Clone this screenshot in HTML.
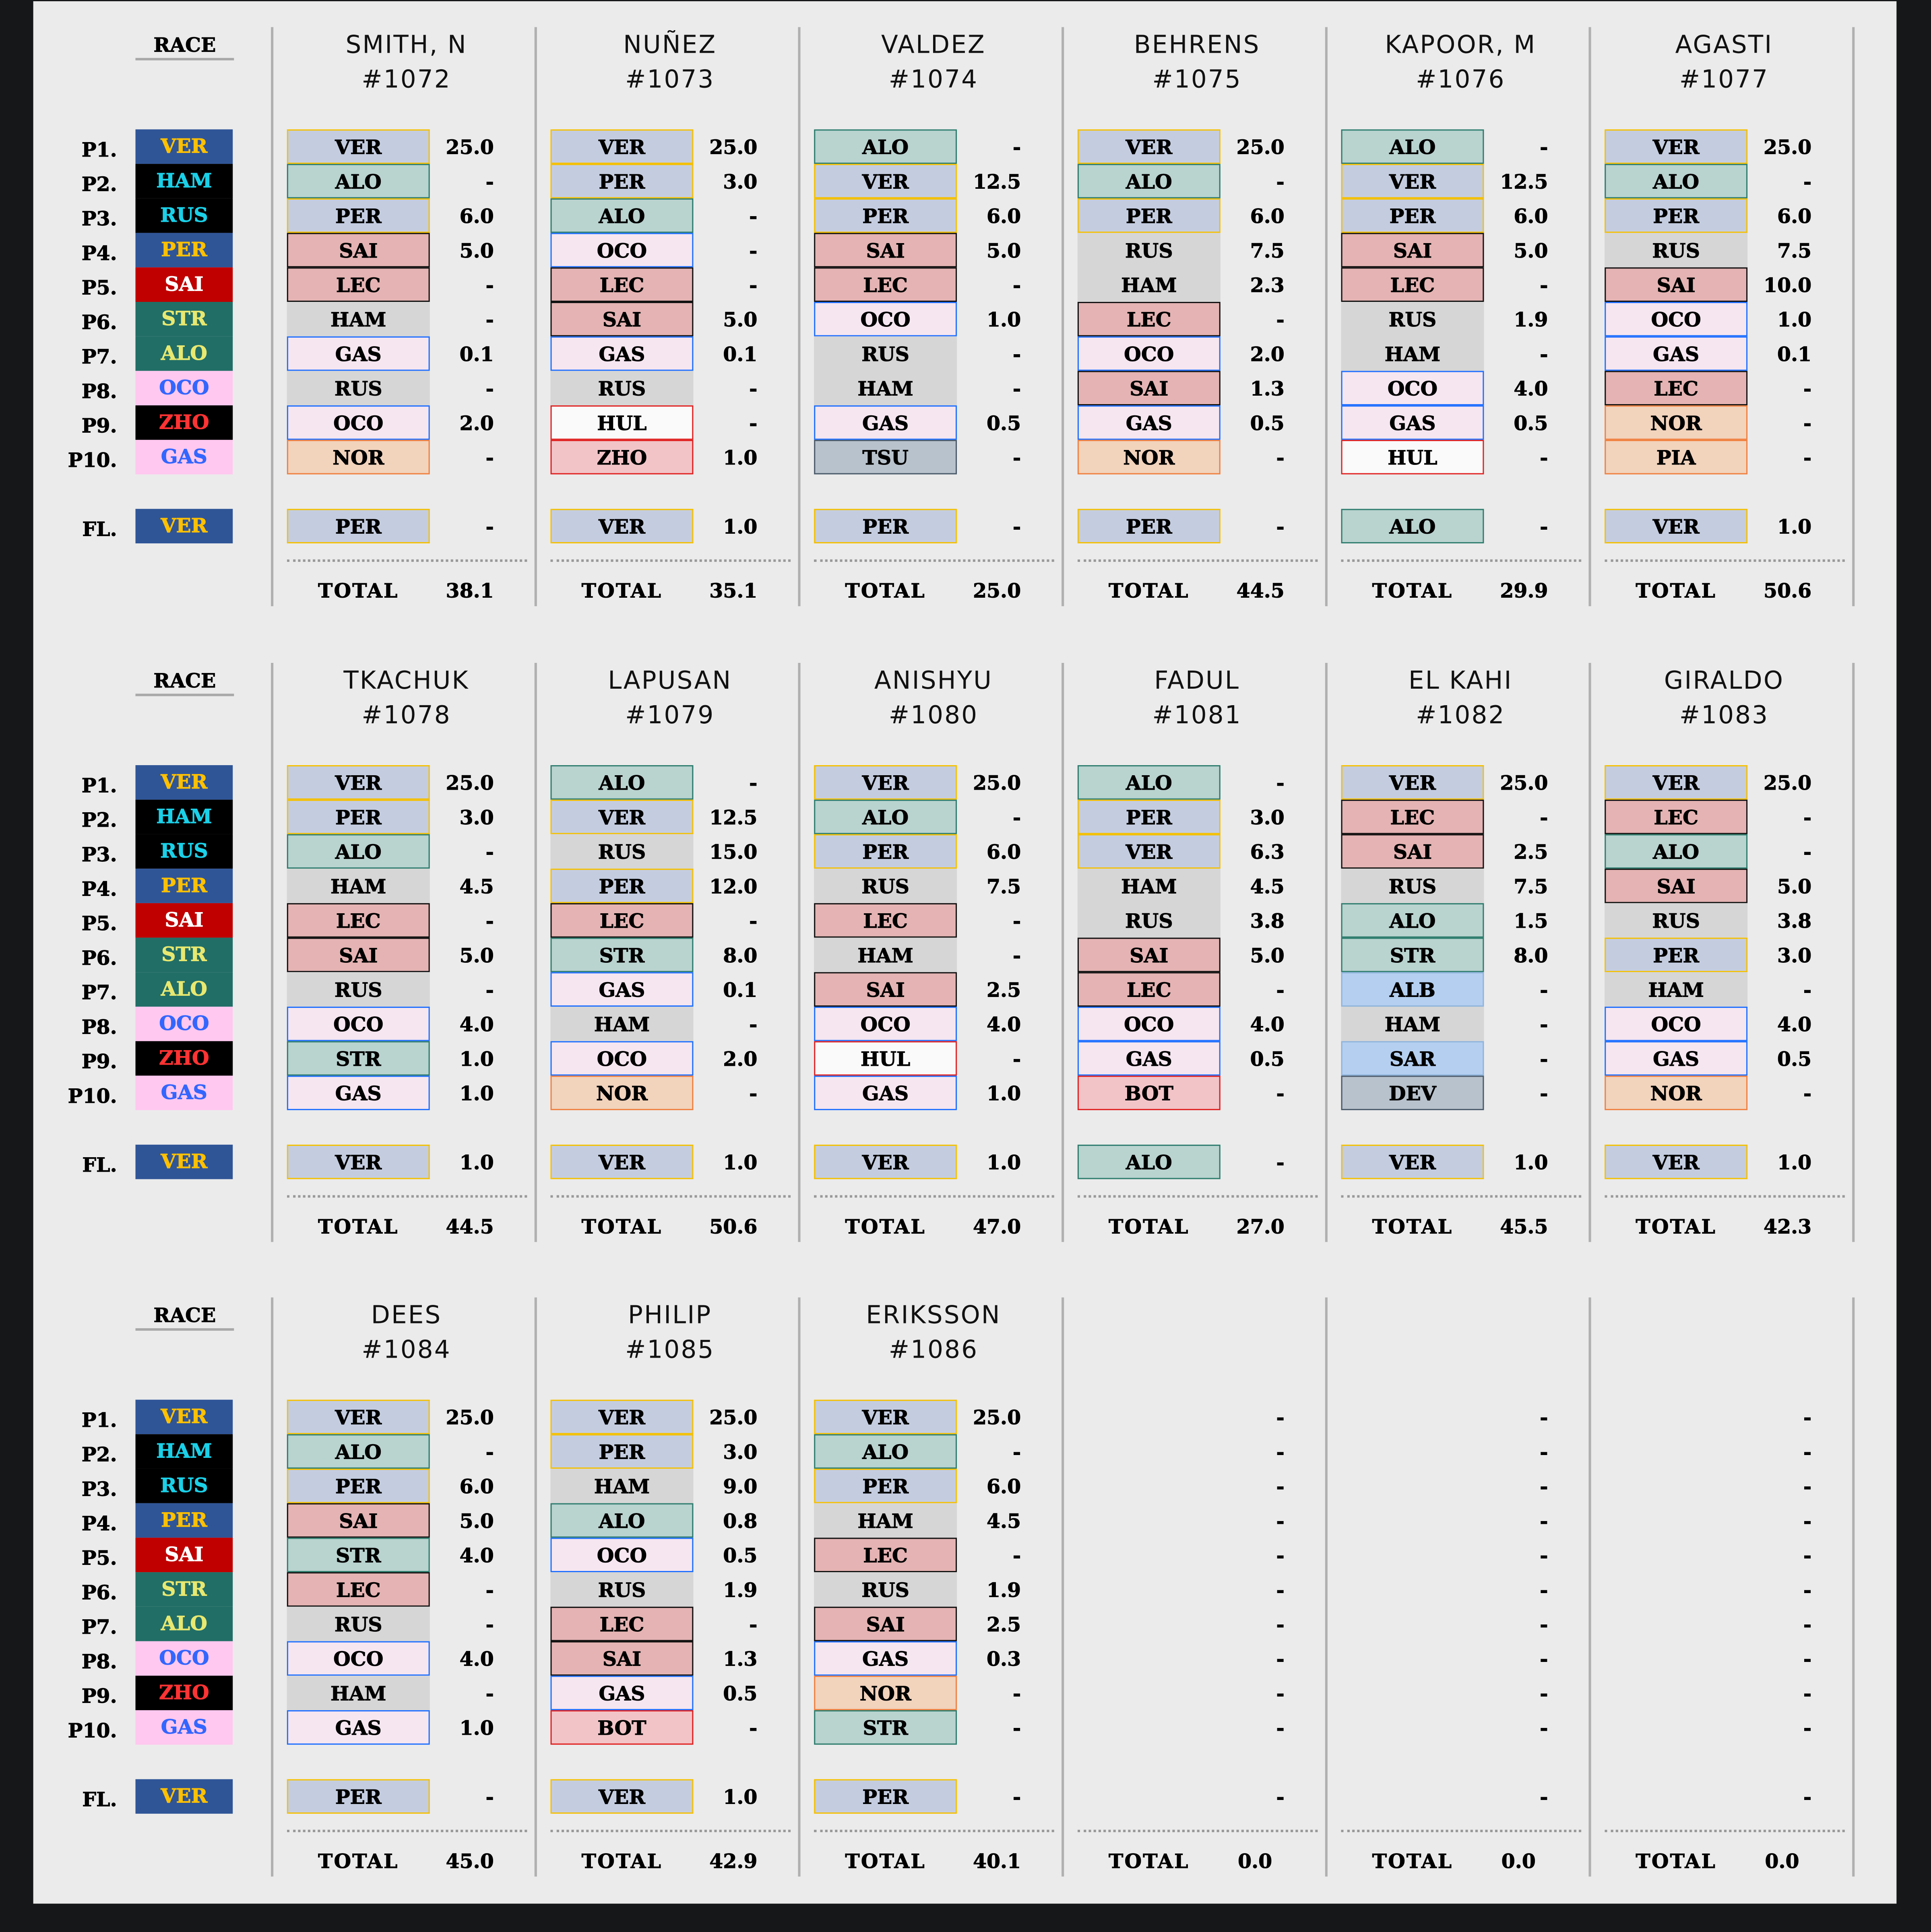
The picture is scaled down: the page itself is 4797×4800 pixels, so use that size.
<!DOCTYPE html>
<html><head><meta charset="utf-8">
<style>
html,body{margin:0;padding:0;background:#161719;}
body{width:4797px;height:4800px;overflow:hidden;position:relative;}
#s{position:absolute;left:0;top:0;width:1568px;height:1568px;transform-origin:0 0;transform:scale(3.0593,3.0612);background:#161719;}
#bg{position:absolute;left:27px;top:1px;width:1513px;height:1544px;background:#ebebeb;}
.a{position:absolute;}
.sf{-webkit-text-stroke:0.35px currentColor;}
.box{position:absolute;box-sizing:border-box;height:28px;font:bold 16px "DejaVu Serif","Liberation Serif",serif;text-align:center;line-height:27px;color:#000;-webkit-text-stroke:0.35px #000;}
.rb{position:absolute;width:79px;height:28px;font:bold 16px "DejaVu Serif","Liberation Serif",serif;text-align:center;line-height:28px;-webkit-text-stroke:0.35px currentColor;}
.pl{position:absolute;width:60px;left:35px;text-align:right;font:bold 16px "DejaVu Serif","Liberation Serif",serif;color:#000;-webkit-text-stroke:0.35px #000;}
.val{position:absolute;width:80px;text-align:right;font:bold 16px "DejaVu Serif","Liberation Serif",serif;color:#000;-webkit-text-stroke:0.35px #000;}
.hd{position:absolute;width:214px;text-align:center;font:20px "DejaVu Sans","Liberation Sans",sans-serif;letter-spacing:1px;color:#111;line-height:28px;}
.sep{position:absolute;width:2px;background:#b0b0b0;}
.dot{position:absolute;height:0;border-top:2px dotted #999;}
</style></head><body>
<div id="s"><div id="bg"></div></div>
<script>
var S=document.getElementById('s');
function el(c,css,t){var d=document.createElement('div');d.className=c;d.style.cssText=css;if(t!=null)d.textContent=t;S.appendChild(d);return d;}
var rc={VER:['#2f5597','#ffc000'],PER:['#2f5597','#ffc000'],HAM:['#000','#1ad0e8'],RUS:['#000','#1ad0e8'],SAI:['#c00000','#fff'],STR:['#216e66','#e8e870'],ALO:['#216e66','#e8e870'],OCO:['#ffc8f0','#3366ff'],GAS:['#ffc8f0','#3366ff'],ZHO:['#000','#ff3333']};
var bc={VER:['#c4cde0','#f5c000'],PER:['#c4cde0','#f5c000'],ALO:['#b9d3cf','#2e7d6e'],STR:['#b9d3cf','#2e7d6e'],SAI:['#e5b3b3','#111'],LEC:['#e5b3b3','#111'],HAM:['#d6d6d6','#d6d6d6'],RUS:['#d6d6d6','#d6d6d6'],GAS:['#f6e6f0','#1e6fff'],OCO:['#f6e6f0','#1e6fff'],NOR:['#f2d3bc','#f08040'],PIA:['#f2d3bc','#f08040'],HUL:['#fafafa','#e02020'],ZHO:['#f2c4c8','#e02020'],BOT:['#f2c4c8','#e02020'],TSU:['#b8c2cc','#4a5a6a'],DEV:['#b8c2cc','#4a5a6a'],ALB:['#b4cff0','#8fb4dc'],SAR:['#b4cff0','#8fb4dc']};
var race=['VER','HAM','RUS','PER','SAI','STR','ALO','OCO','ZHO','GAS'];
var D=[
['SMITH, N','#1072','VER 25.0,ALO -,PER 6.0,SAI 5.0,LEC -,HAM -,GAS 0.1,RUS -,OCO 2.0,NOR -,PER -','38.1'],
['NUÑEZ','#1073','VER 25.0,PER 3.0,ALO -,OCO -,LEC -,SAI 5.0,GAS 0.1,RUS -,HUL -,ZHO 1.0,VER 1.0','35.1'],
['VALDEZ','#1074','ALO -,VER 12.5,PER 6.0,SAI 5.0,LEC -,OCO 1.0,RUS -,HAM -,GAS 0.5,TSU -,PER -','25.0'],
['BEHRENS','#1075','VER 25.0,ALO -,PER 6.0,RUS 7.5,HAM 2.3,LEC -,OCO 2.0,SAI 1.3,GAS 0.5,NOR -,PER -','44.5'],
['KAPOOR, M','#1076','ALO -,VER 12.5,PER 6.0,SAI 5.0,LEC -,RUS 1.9,HAM -,OCO 4.0,GAS 0.5,HUL -,ALO -','29.9'],
['AGASTI','#1077','VER 25.0,ALO -,PER 6.0,RUS 7.5,SAI 10.0,OCO 1.0,GAS 0.1,LEC -,NOR -,PIA -,VER 1.0','50.6'],
['TKACHUK','#1078','VER 25.0,PER 3.0,ALO -,HAM 4.5,LEC -,SAI 5.0,RUS -,OCO 4.0,STR 1.0,GAS 1.0,VER 1.0','44.5'],
['LAPUSAN','#1079','ALO -,VER 12.5,RUS 15.0,PER 12.0,LEC -,STR 8.0,GAS 0.1,HAM -,OCO 2.0,NOR -,VER 1.0','50.6'],
['ANISHYU','#1080','VER 25.0,ALO -,PER 6.0,RUS 7.5,LEC -,HAM -,SAI 2.5,OCO 4.0,HUL -,GAS 1.0,VER 1.0','47.0'],
['FADUL','#1081','ALO -,PER 3.0,VER 6.3,HAM 4.5,RUS 3.8,SAI 5.0,LEC -,OCO 4.0,GAS 0.5,BOT -,ALO -','27.0'],
['EL KAHI','#1082','VER 25.0,LEC -,SAI 2.5,RUS 7.5,ALO 1.5,STR 8.0,ALB -,HAM -,SAR -,DEV -,VER 1.0','45.5'],
['GIRALDO','#1083','VER 25.0,LEC -,ALO -,SAI 5.0,RUS 3.8,PER 3.0,HAM -,OCO 4.0,GAS 0.5,NOR -,VER 1.0','42.3'],
['DEES','#1084','VER 25.0,ALO -,PER 6.0,SAI 5.0,STR 4.0,LEC -,RUS -,OCO 4.0,HAM -,GAS 1.0,PER -','45.0'],
['PHILIP','#1085','VER 25.0,PER 3.0,HAM 9.0,ALO 0.8,OCO 0.5,RUS 1.9,LEC -,SAI 1.3,GAS 0.5,BOT -,VER 1.0','42.9'],
['ERIKSSON','#1086','VER 25.0,ALO -,PER 6.0,HAM 4.5,LEC -,RUS 1.9,SAI 2.5,GAS 0.3,NOR -,STR -,PER -','40.1'],
null,null,null];
for(var b=0;b<3;b++){
 var oy=b*515.5;
 el('a sf','left:110px;top:'+(oy+27)+'px;width:80px;text-align:center;font:bold 16px "DejaVu Serif",serif;color:#000;','RACE');
 el('a','left:110px;top:'+(oy+47)+'px;width:80px;height:2px;background:#a8a8a8;');
 for(var r=0;r<11;r++){
  var y=oy+105+(r<10?r*28:308);
  var lab=r<10?'P'+(r+1)+'.':'FL.';
  el('pl','top:'+(y+7)+'px;',lab);
  var rd=r<10?race[r]:'VER';
  var c=rc[rd];
  el('rb','left:110px;top:'+y+'px;background:'+c[0]+';color:'+c[1]+';',rd);
 }
 for(var k=0;k<7;k++) el('sep','left:'+(220+k*214)+'px;top:'+(oy+22)+'px;height:470px;');
 for(var k=0;k<6;k++){
  var x=221+k*214, d=D[b*6+k];
  if(d){
   el('hd','left:'+(x+2)+'px;top:'+(oy+22)+'px;',d[0]);
   el('hd','left:'+(x+2)+'px;top:'+(oy+50)+'px;',d[1]);
  }
  var items=d?d[2].split(','):null;
  for(var r=0;r<11;r++){
   var y=oy+105+(r<10?r*28:308);
   var v='-';
   if(items){
    var p=items[r].split(' '); v=p[1];
    var cc=bc[p[0]];
    el('box','left:'+(x+12)+'px;top:'+y+'px;width:116px;background:'+cc[0]+';border:1.5px solid '+cc[1]+';',p[0]);
   }
   el('val','left:'+(x+100)+'px;top:'+(y+5)+'px;',v);
  }
  el('dot','left:'+(x+12)+'px;top:'+(oy+454)+'px;width:195px;');
  el('a sf','left:'+(x+12)+'px;top:'+(oy+470)+'px;width:116px;text-align:center;font:bold 16px "DejaVu Serif",serif;color:#000;letter-spacing:1px;','TOTAL');
  el('val','left:'+(x+(d?100:90))+'px;top:'+(oy+470)+'px;',d?d[3]:'0.0');
 }
}
</script>
</body></html>
